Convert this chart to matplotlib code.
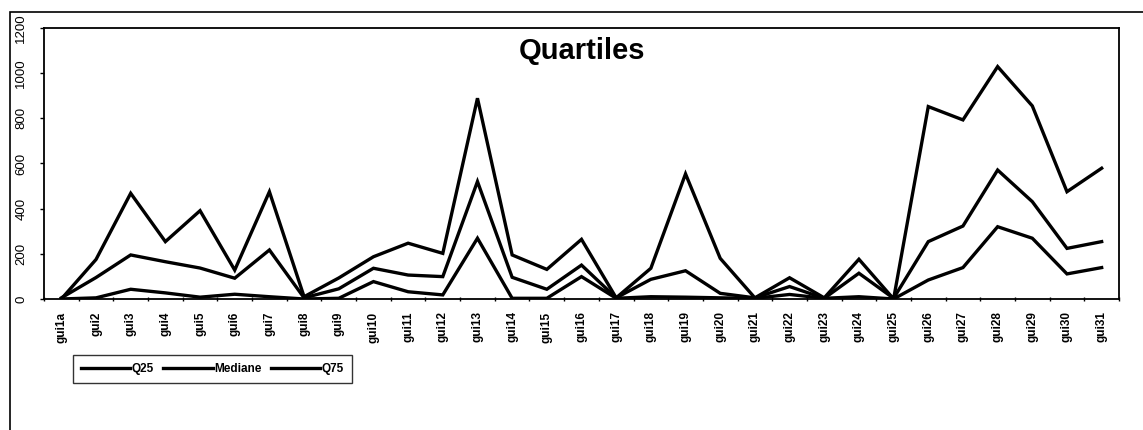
import numpy as np
import matplotlib
matplotlib.use("Agg")
import matplotlib.pyplot as plt
from matplotlib.patches import Rectangle
from matplotlib.lines import Line2D

plt.rcParams['font.family'] = ['Liberation Sans', 'DejaVu Sans']

# Categories and quartile values
labels = ['gui1a'] + ['gui%d' % i for i in range(2, 32)]
q25 = [0, 5, 43, 27, 8, 21, 10, 0, 3, 77, 32, 18, 269, 3, 3, 99, 3,
       10, 8, 5, 3, 20, 3, 10, 0, 84, 139, 320, 269, 111, 139]
mediane = [5, 95, 195, 165, 137, 92, 217, 5, 45, 136, 106, 99, 520, 96, 43, 150, 5,
           87, 125, 25, 5, 55, 3, 114, 3, 254, 323, 571, 431, 224, 254]
q75 = [0, 175, 468, 254, 391, 128, 475, 10, 93, 187, 247, 202, 889, 195, 131, 264, 5,
       136, 554, 180, 5, 94, 5, 176, 0, 852, 793, 1029, 855, 475, 579]

fig = plt.figure(figsize=(11.43, 4.30), dpi=100)
ax = fig.add_axes([0.0385, 0.3047, 0.9405, 0.6302])

x = np.arange(len(labels))
for name, vals in [('Q25', q25), ('Mediane', mediane), ('Q75', q75)]:
    ax.plot(x, vals, color='black', lw=2.4, solid_joinstyle='miter', label=name)

ax.set_xlim(-0.5, len(labels) - 0.5)
ax.set_ylim(0, 1200)
ax.set_yticks(range(0, 1201, 200))
ax.set_yticklabels([str(v) for v in range(0, 1201, 200)], rotation=90,
                   va='center', fontsize=9.5)
ax.set_xticks(x)
ax.set_xticklabels(labels, rotation=90, fontsize=8.5, fontweight='bold')
ax.set_xticks(np.arange(-0.5, len(labels)), minor=True)
ax.tick_params(axis='x', which='major', length=0, pad=9)
ax.tick_params(axis='x', which='minor', length=3, direction='inout', width=1)
ax.tick_params(axis='y', length=3, direction='out', width=1, pad=9)
for s in ax.spines.values():
    s.set_linewidth(1.3)

title = ax.text(0.5, 0.915, 'Quartiles', transform=ax.transAxes, ha='center',
                va='center', fontsize=21, fontweight='bold')

handles = [Line2D([], [], color='black', lw=2.4) for _ in range(3)]
leg = fig.legend(handles, ['Q25', 'Mediane', 'Q75'], loc='upper left',
                 bbox_to_anchor=(0.064, 0.174), ncol=3,
                 prop={'weight': 'bold', 'size': 8.5},
                 frameon=True, fancybox=False, handlelength=4.2, handletextpad=0.1,
                 columnspacing=0.8, borderpad=0.65, borderaxespad=0.0,
                 edgecolor='black')
leg.get_frame().set_linewidth(1.0)

# outer chart frame
fig.patches.append(Rectangle((10 / 1143, -0.05), 1.2, 1 - 12 / 430 + 0.05,
                             transform=fig.transFigure, fill=False,
                             edgecolor='black', lw=1.2))

fig.savefig('out.png', dpi=100)
